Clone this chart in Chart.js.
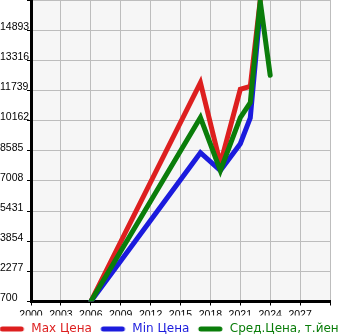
<!DOCTYPE html>
<html>
<head>
<meta charset="utf-8">
<script src="https://cdn.jsdelivr.net/npm/chart.js@4"></script>
<style>
  html, body { margin: 0; padding: 0; background: #fff; }
  #wrap { width: 345px; height: 335px; }
</style>
</head>
<body>
<div id="wrap"><canvas id="PriceChart"></canvas></div>
<script>
var seriesNames = ['Max Цена', 'Min Цена', 'Сред.Цена, т.йен'];
var years = [2006, 2017, 2019, 2021, 2022, 2023, 2024];
var maxPrice = [700, 12150, 7900, 11800, 11950, 16450, null];
var minPrice = [700, 8480, 7550, 8950, 10300, 16000, null];
var avgPrice = [700, 10320, 7550, 10320, 11100, 16400, 12530];
var yTicks = [700, 2277, 3854, 5431, 7008, 8585, 10162, 11739, 13316, 14893];

var colors = ['#dd1f1f', '#1b1bdd', '#0a7d0a'];

function points(values) {
  return years.map(function(y, i) {
    return { x: y, y: values[i] };
  });
}

// short rounded line used as legend marker
function marker(color) {
  var c = document.createElement('canvas');
  c.width = 27;
  c.height = 6;
  var g = c.getContext('2d');
  g.strokeStyle = color;
  g.lineWidth = 5;
  g.lineCap = 'round';
  g.beginPath();
  g.moveTo(4, 3);
  g.lineTo(23, 3);
  g.stroke();
  return c;
}

var bgPlugin = {
  id: 'bg',
  beforeDraw: function(chart) {
    var a = chart.chartArea;
    var c = chart.ctx;
    c.save();
    c.fillStyle = '#f6f6f6';
    c.fillRect(a.left, a.top, a.right - a.left, a.bottom - a.top);
    c.restore();
  }
};

// the legend row is a bit wider than the canvas: keep it on one row, shorter
var EXTRA = 100;
var legendFit = {
  id: 'legendFit',
  beforeUpdate: function(chart) {
    var lg = chart.legend;
    if (!lg || lg._patched) return;
    var fitRows = lg._fitRows;
    lg._fitRows = function() {
      var m = this.maxWidth;
      this.maxWidth = m + EXTRA;
      var r = fitRows.apply(this, arguments);
      this.maxWidth = m;
      return r;
    };
    var fit = lg.fit;
    lg.fit = function() {
      fit.apply(this, arguments);
      this.height -= 10;
    };
    var draw = lg.draw;
    lg.draw = function() {
      var lw = this.lineWidths;
      this.right += EXTRA;
      this.lineWidths = lw.map(function(w) { return w + EXTRA + 8; });
      draw.apply(this, arguments);
      this.right -= EXTRA;
      this.lineWidths = lw;
    };
    lg._patched = true;
  }
};

var ctx = document.getElementById('PriceChart').getContext('2d');
var config = {
  type: 'line',
  data: {
    datasets: [
      { label: seriesNames[0], data: points(maxPrice), borderColor: colors[0], backgroundColor: colors[0], order: 2 },
      { label: seriesNames[1], data: points(minPrice), borderColor: colors[1], backgroundColor: colors[1], order: 1 },
      { label: seriesNames[2], data: points(avgPrice), borderColor: colors[2], backgroundColor: colors[2], order: 0 }
    ]
  },
  options: {
    responsive: true,
    maintainAspectRatio: false,
    animation: false,
    layout: { padding: 0 },
    elements: {
      line: { borderWidth: 5, borderCapStyle: 'round', borderJoinStyle: 'miter', tension: 0 },
      point: { radius: 0 }
    },
    scales: {
      x: {
        type: 'linear',
        min: 2000,
        max: 2030,
        afterFit: function(s) { s.height = 14; },
        grid: { color: '#bdbdbd', lineWidth: 1, tickLength: 4, tickColor: '#000' },
        border: { color: '#000', width: 3 },
        ticks: {
          stepSize: 3,
          autoSkip: false,
          maxRotation: 0,
          padding: 3,
          color: '#000',
          font: { family: 'Liberation Sans', size: 10.5 },
          callback: function(v) { return v === 2030 ? '' : String(v); }
        }
      },
      y: {
        min: 700,
        max: 16470,
        afterFit: function(s) { s.width = 31; s.paddingTop = 0; s.paddingBottom = 0; },
        afterBuildTicks: function(s) {
          s.ticks = yTicks.concat([16470]).map(function(v) { return { value: v }; });
        },
        grid: { color: '#bdbdbd', lineWidth: 1, tickLength: 4, tickColor: '#000' },
        border: { color: '#000', width: 3 },
        ticks: {
          crossAlign: 'far',
          padding: 0,
          labelOffset: -3,
          color: '#000',
          font: { family: 'Liberation Sans', size: 10.5 },
          callback: function(v) { return v === 16470 ? '' : String(v); }
        }
      },
      pad: {
        position: 'right',
        display: true,
        grid: { display: false },
        border: { display: false },
        ticks: { display: false },
        afterFit: function(s) { s.width = 15; }
      }
    },
    plugins: {
      tooltip: { enabled: false },
      legend: {
        position: 'bottom',
        labels: {
          usePointStyle: true,
          pointStyleWidth: 27,
          boxHeight: 6,
          padding: 7.5,
          font: { family: 'DejaVu Sans', size: 12 },
          sort: function(a, b) { return a.datasetIndex - b.datasetIndex; },
          generateLabels: function(chart) {
            var items = Chart.defaults.plugins.legend.labels.generateLabels(chart);
            items.forEach(function(it) {
              it.fontColor = colors[it.datasetIndex];
              it.pointStyle = marker(colors[it.datasetIndex]);
            });
            return items;
          }
        }
      }
    }
  },
  plugins: [bgPlugin, legendFit]
};

var chart = new Chart(ctx, config);
</script>
</body>
</html>
